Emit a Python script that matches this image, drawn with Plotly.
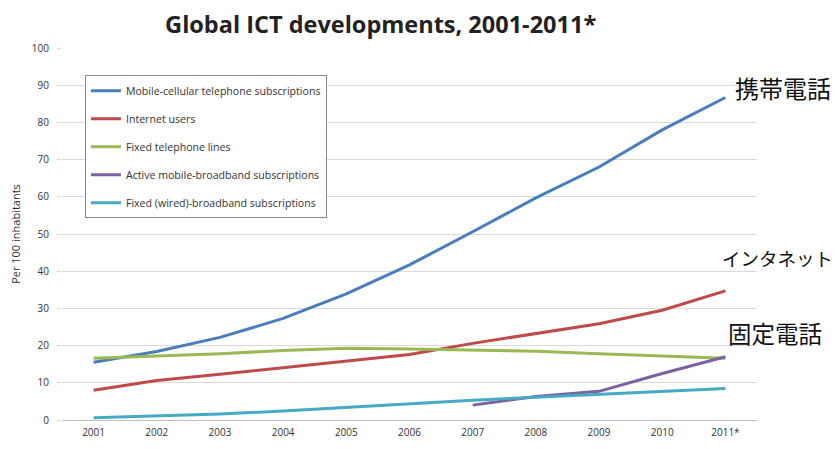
import plotly.graph_objects as go

years = ["2001", "2002", "2003", "2004", "2005", "2006", "2007", "2008", "2009", "2010", "2011*"]
mobile_cellular = [15.5, 18.4, 22.2, 27.3, 33.9, 41.7, 50.6, 59.7, 68.0, 78.0, 86.7]
internet_users = [8.0, 10.6, 12.3, 14.1, 15.8, 17.6, 20.6, 23.2, 25.9, 29.5, 34.7]
fixed_telephone = [16.6, 17.2, 17.8, 18.7, 19.3, 19.1, 18.9, 18.5, 17.8, 17.3, 16.6]
mobile_broadband = [None, None, None, None, None, None, 4.0, 6.3, 7.7, 12.5, 17.0]
fixed_broadband = [0.6, 1.0, 1.6, 2.4, 3.4, 4.3, 5.3, 6.1, 6.9, 7.7, 8.5]

series = [
    ("Mobile-cellular telephone subscriptions", mobile_cellular, "#4a7ebb"),
    ("Internet users", internet_users, "#be4b48"),
    ("Fixed telephone lines", fixed_telephone, "#98b954"),
    ("Active mobile-broadband subscriptions", mobile_broadband, "#7d60a0"),
    ("Fixed (wired)-broadband subscriptions", fixed_broadband, "#46aac5"),
]

labels_jp = [("携帯電話", 1.038, 89.4, 24), ("インタネット", 1.029, 43.5, 18.5), ("固定電話", 1.026, 23.4, 23.5)]

fig = go.Figure()
for i, (name, vals, color) in enumerate(series):
    fig.add_trace(go.Scatter(
        x=years, y=vals, name=name, mode="lines",
        line=dict(color=color, width=3),
        legendgroup=f"g{i}",
    ))

for text, xp, yv, fs in labels_jp:
    fig.add_annotation(
        x=xp, xref="paper", y=yv, yref="y", text=text, showarrow=False,
        xanchor="center", yanchor="middle",
        font=dict(family="Noto Sans CJK JP", size=fs, color="#111111"),
    )

fig.update_layout(
    width=830, height=433,
    margin=dict(l=54, r=81, t=40, b=21, autoexpand=False),
    paper_bgcolor="white", plot_bgcolor="white",
    title=dict(text="<b>Global ICT developments, 2001-2011*</b>",
               x=0.449, xanchor="center", y=0.962, yanchor="middle",
               font=dict(family="Open Sans", size=23.5, color="#222222")),
    showlegend=True,
    legend=dict(x=0.033, y=0.927, xanchor="left", yanchor="top",
                bgcolor="white", bordercolor="#888888", borderwidth=1,
                font=dict(family="Open Sans", size=10.6, color="#333333"),
                tracegroupgap=9, traceorder="grouped"),
    xaxis=dict(type="category", range=[-0.5, 10.5], showgrid=False,
               showline=True, linecolor="#bfbfbf", linewidth=1, automargin=False,
               ticks="", ticklabelstandoff=3,
               tickfont=dict(family="Open Sans", size=10, color="#333333"),
               fixedrange=True),
    yaxis=dict(range=[0, 100], dtick=10, showgrid=True, gridcolor="#d9d9d9",
               zeroline=False, showline=False, ticks="outside", ticklen=4,
               tickcolor="#d9d9d9", automargin=False, ticklabelstandoff=6,
               tickfont=dict(family="Open Sans", size=10, color="#333333"),
               title=dict(text="Per 100 inhabitants", standoff=8,
                          font=dict(family="Open Sans", size=11, color="#333333"))),
)

fig.write_html("out.html")
